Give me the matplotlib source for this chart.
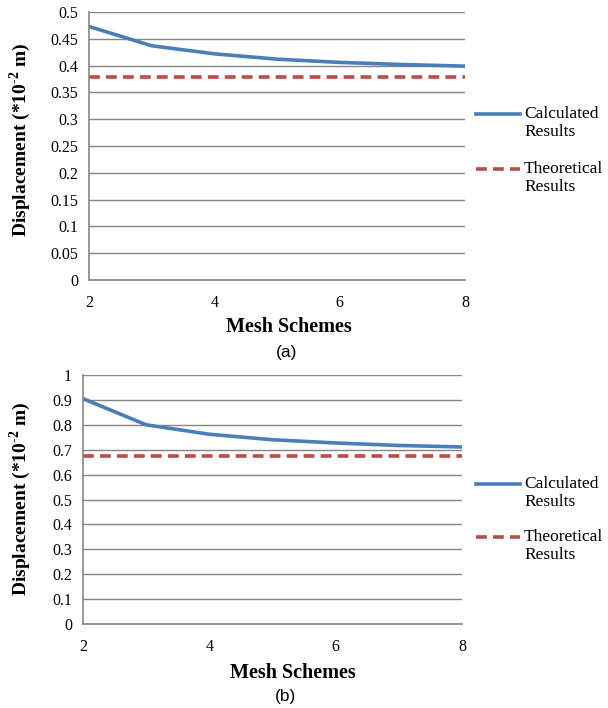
import matplotlib.pyplot as plt
from matplotlib.lines import Line2D
import numpy as np

mesh = [2, 3, 4, 5, 6, 7, 8]
calc_a = [0.473, 0.437, 0.422, 0.412, 0.406, 0.402, 0.399]
theo_a = [0.378] * 7
calc_b = [0.905, 0.800, 0.762, 0.740, 0.727, 0.717, 0.711]
theo_b = [0.675] * 7

yticks_a = np.arange(0, 0.51, 0.05)
yticks_a_lbl = ['0', '0.05', '0.1', '0.15', '0.2', '0.25', '0.3', '0.35', '0.4', '0.45', '0.5']
yticks_b = np.arange(0, 1.01, 0.1)
yticks_b_lbl = ['0', '0.1', '0.2', '0.3', '0.4', '0.5', '0.6', '0.7', '0.8', '0.9', '1']

plt.rcParams['font.family'] = 'Liberation Serif'
plt.rcParams['mathtext.fontset'] = 'custom'
plt.rcParams['mathtext.bf'] = 'Liberation Serif:bold'
plt.rcParams['mathtext.rm'] = 'Liberation Serif:bold'

W, H = 608, 708
fig = plt.figure(figsize=(W / 100, H / 100), dpi=100)

blue = '#4A7EBB'
red = '#BE4B48'
grid = '#868686'


def rect(x0, y0, x1, y1):
    return [x0 / W, 1 - y1 / H, (x1 - x0) / W, (y1 - y0) / H]


def legend_entry(y, color, ls, word):
    # handle lines up with the first line of the two-line label
    fig.add_artist(Line2D([476 / W, 520 / W], [1 - y / H] * 2, color=color, lw=2.6, ls=ls))
    fig.text(524 / W, 1 - y / H, word, va='center', ha='left', fontsize=12.5)
    fig.text(524 / W, 1 - (y + 18) / H, 'Results', va='center', ha='left', fontsize=12.5)


def panel(r, calc, theo, ticks, lbls, ymax, xlab_pos, ylab_pos):
    ax = fig.add_axes(r)
    ax.plot(mesh, calc, color=blue, lw=2.6)
    ax.plot(mesh, theo, color=red, lw=2.6, ls=(0, (3, 1.7)))
    ax.set_xlim(2, 8)
    ax.set_ylim(0, ymax)
    ax.set_yticks(ticks)
    ax.set_yticklabels(lbls)
    ax.set_xticks([2, 4, 6, 8])
    ax.tick_params(length=0, labelsize=11.5, pad=8, colors='black')
    ax.tick_params(axis='x', pad=11)
    ax.grid(axis='y', color=grid, lw=1)
    ax.set_axisbelow(True)
    for s in ['top', 'right']:
        ax.spines[s].set_visible(False)
    for s in ['left', 'bottom']:
        ax.spines[s].set_color(grid)
        ax.spines[s].set_linewidth(1.2)
    ax.set_xlabel('Mesh Schemes', fontsize=14.5, fontweight='bold', va='center')
    ax.xaxis.set_label_coords(xlab_pos[0] / W, 1 - xlab_pos[1] / H, transform=fig.transFigure)
    ax.set_ylabel(r'Displacement (*10$^{\text{-2}}$ m)', fontsize=14, fontweight='bold', va='center')
    ax.yaxis.set_label_coords(ylab_pos[0] / W, 1 - ylab_pos[1] / H, transform=fig.transFigure)
    return ax


panel(rect(89, 12, 465, 280), calc_a, theo_a, yticks_a, yticks_a_lbl, 0.5, (289, 327), (20, 140))
fig.text(287 / W, 1 - 352 / H, '(a)', ha='center', va='center', fontsize=12.5, family='Liberation Sans')
legend_entry(114, blue, '-', 'Calculated')
legend_entry(169, red, (0, (3, 1.7)), 'Theoretical')

panel(rect(83, 375, 462, 624), calc_b, theo_b, yticks_b, yticks_b_lbl, 1.0, (293, 673), (20, 499))
fig.text(286 / W, 1 - 697 / H, '(b)', ha='center', va='center', fontsize=12.5, family='Liberation Sans')
legend_entry(484, blue, '-', 'Calculated')
legend_entry(537, red, (0, (3, 1.7)), 'Theoretical')

fig.savefig('out.png', dpi=100)
